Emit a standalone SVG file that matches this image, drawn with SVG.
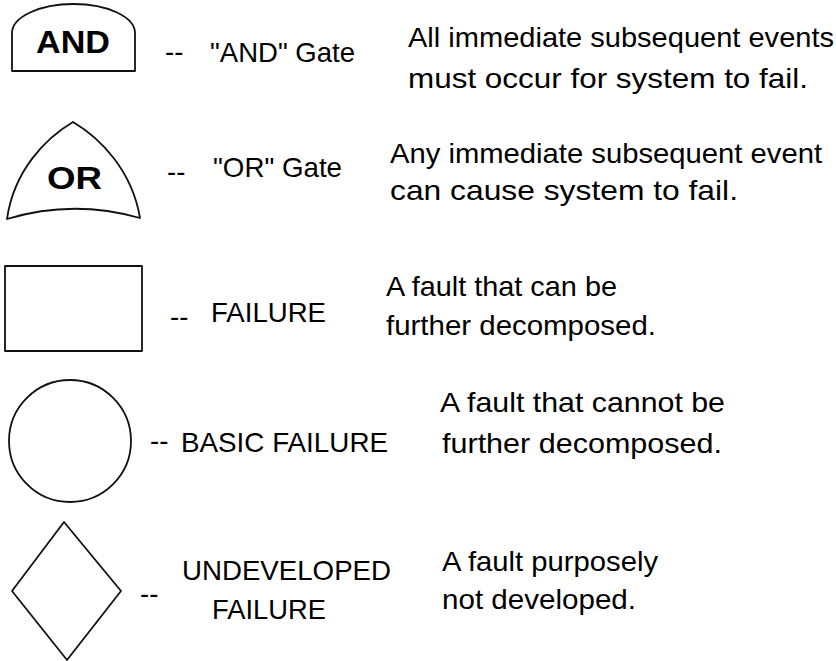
<svg xmlns="http://www.w3.org/2000/svg" width="836" height="661" viewBox="0 0 836 661">
  <style>
    .sym { fill: #fff; stroke: #111; stroke-width: 1.8; stroke-linejoin: round; }
    .gate { font-family: "Liberation Sans", Arial, sans-serif; font-weight: bold; fill: #000; }
    .lbl { font-family: "Liberation Sans", Arial, sans-serif; font-size: 27.5px; fill: #000; }
    .desc { font-family: "Liberation Sans", Arial, sans-serif; font-size: 28.5px; fill: #000; }
  </style>
  <rect width="836" height="661" fill="#fff"/>

  <!-- AND gate: flat sides, domed top -->
  <g id="and-gate">
    <path class="sym" d="M12,71 V33 A61.5,29 0 0 1 135,33 V71 Z"/>
    <text class="gate" x="36" y="53" font-size="31" textLength="74" lengthAdjust="spacingAndGlyphs">AND</text>
    <text class="lbl" x="165" y="61">--</text>
    <text class="lbl" x="210" y="62" textLength="145" lengthAdjust="spacingAndGlyphs">"AND" Gate</text>
    <text class="desc" x="408" y="47" textLength="426" lengthAdjust="spacingAndGlyphs">All immediate subsequent events</text>
    <text class="desc" x="408" y="88" textLength="400" lengthAdjust="spacingAndGlyphs">must occur for system to fail.</text>
  </g>

  <!-- OR gate: pointed top, curved sides, concave base -->
  <g id="or-gate">
    <path class="sym" d="M7,219 C14,170 46,138 73,122 C100,138 132,170 140,218 Q73,199 7,219 Z"/>
    <text class="gate" x="47" y="189" font-size="32" textLength="55" lengthAdjust="spacingAndGlyphs">OR</text>
    <text class="lbl" x="167" y="181">--</text>
    <text class="lbl" x="213" y="177" textLength="129" lengthAdjust="spacingAndGlyphs">"OR" Gate</text>
    <text class="desc" x="390" y="163" textLength="432" lengthAdjust="spacingAndGlyphs">Any immediate subsequent event</text>
    <text class="desc" x="390" y="200" textLength="348" lengthAdjust="spacingAndGlyphs">can cause system to fail.</text>
  </g>

  <!-- Failure -->
  <g id="failure">
    <rect class="sym" x="5" y="266" width="137" height="85"/>
    <text class="lbl" x="170" y="326">--</text>
    <text class="lbl" x="211" y="322" textLength="115" lengthAdjust="spacingAndGlyphs">FAILURE</text>
    <text class="desc" x="386" y="296" textLength="231" lengthAdjust="spacingAndGlyphs">A fault that can be</text>
    <text class="desc" x="386" y="335" textLength="270" lengthAdjust="spacingAndGlyphs">further decomposed.</text>
  </g>

  <!-- Basic failure -->
  <g id="basic-failure">
    <circle class="sym" cx="70" cy="441" r="61"/>
    <text class="lbl" x="150" y="450">--</text>
    <text class="lbl" x="181" y="452" textLength="207" lengthAdjust="spacingAndGlyphs">BASIC FAILURE</text>
    <text class="desc" x="440" y="412" textLength="285" lengthAdjust="spacingAndGlyphs">A fault that cannot be</text>
    <text class="desc" x="442" y="453" textLength="280" lengthAdjust="spacingAndGlyphs">further decomposed.</text>
  </g>

  <!-- Undeveloped failure -->
  <g id="undeveloped-failure">
    <path class="sym" d="M64,522 L121,591 L67,660 L12,591 Z"/>
    <text class="lbl" x="140" y="603">--</text>
    <text class="lbl" x="182" y="580" textLength="209" lengthAdjust="spacingAndGlyphs">UNDEVELOPED</text>
    <text class="lbl" x="212" y="619" textLength="114" lengthAdjust="spacingAndGlyphs">FAILURE</text>
    <text class="desc" x="442" y="571" textLength="216" lengthAdjust="spacingAndGlyphs">A fault purposely</text>
    <text class="desc" x="442" y="609" textLength="194" lengthAdjust="spacingAndGlyphs">not developed.</text>
  </g>
</svg>
